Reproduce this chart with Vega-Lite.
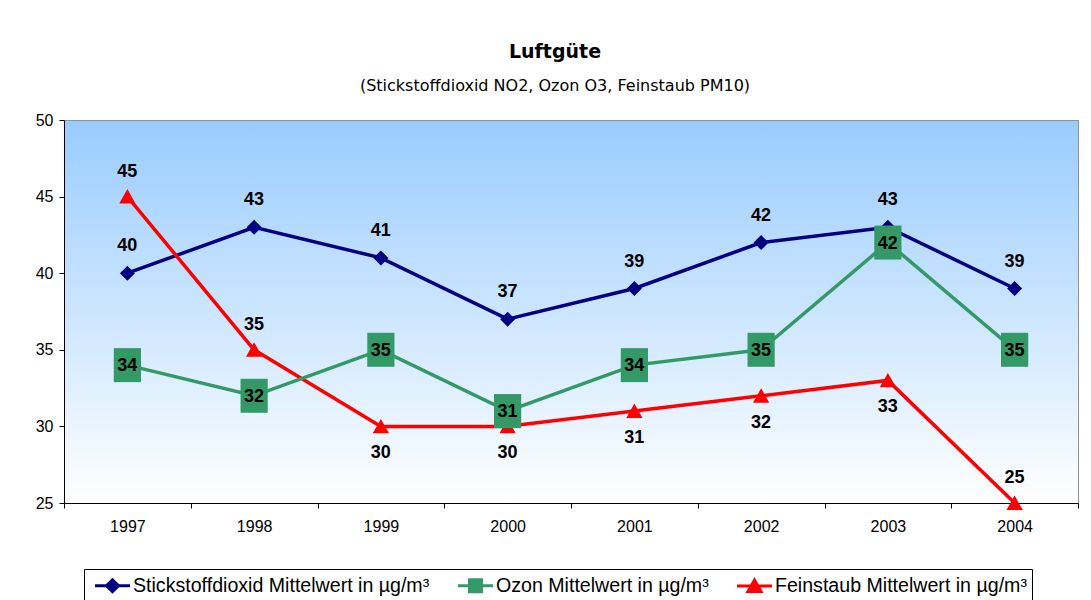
{
  "$schema": "https://vega.github.io/schema/vega-lite/v6.json",
  "width": 1014,
  "height": 383,
  "autosize": {"type": "none"},
  "padding": {"left": 64, "top": 120, "right": 13, "bottom": 97},
  "background": "white",
  "title": {
    "text": "Luftgüte",
    "subtitle": "(Stickstoffdioxid NO2, Ozon O3, Feinstaub PM10)",
    "font": "DejaVu Sans",
    "fontSize": 19,
    "fontWeight": "bold",
    "color": "black",
    "subtitleFont": "DejaVu Sans",
    "subtitleFontSize": 16,
    "subtitleColor": "black",
    "anchor": "middle",
    "dx": -16,
    "offset": 18,
    "subtitlePadding": 16
  },
  "data": {
    "values": [
      {"year": "1997", "series": "Stickstoffdioxid Mittelwert in µg/m³", "value": 40},
      {"year": "1998", "series": "Stickstoffdioxid Mittelwert in µg/m³", "value": 43},
      {"year": "1999", "series": "Stickstoffdioxid Mittelwert in µg/m³", "value": 41},
      {"year": "2000", "series": "Stickstoffdioxid Mittelwert in µg/m³", "value": 37},
      {"year": "2001", "series": "Stickstoffdioxid Mittelwert in µg/m³", "value": 39},
      {"year": "2002", "series": "Stickstoffdioxid Mittelwert in µg/m³", "value": 42},
      {"year": "2003", "series": "Stickstoffdioxid Mittelwert in µg/m³", "value": 43},
      {"year": "2004", "series": "Stickstoffdioxid Mittelwert in µg/m³", "value": 39},
      {"year": "1997", "series": "Feinstaub Mittelwert in µg/m³", "value": 45},
      {"year": "1998", "series": "Feinstaub Mittelwert in µg/m³", "value": 35},
      {"year": "1999", "series": "Feinstaub Mittelwert in µg/m³", "value": 30},
      {"year": "2000", "series": "Feinstaub Mittelwert in µg/m³", "value": 30},
      {"year": "2001", "series": "Feinstaub Mittelwert in µg/m³", "value": 31},
      {"year": "2002", "series": "Feinstaub Mittelwert in µg/m³", "value": 32},
      {"year": "2003", "series": "Feinstaub Mittelwert in µg/m³", "value": 33},
      {"year": "2004", "series": "Feinstaub Mittelwert in µg/m³", "value": 25},
      {"year": "1997", "series": "Ozon Mittelwert in µg/m³", "value": 34},
      {"year": "1998", "series": "Ozon Mittelwert in µg/m³", "value": 32},
      {"year": "1999", "series": "Ozon Mittelwert in µg/m³", "value": 35},
      {"year": "2000", "series": "Ozon Mittelwert in µg/m³", "value": 31},
      {"year": "2001", "series": "Ozon Mittelwert in µg/m³", "value": 34},
      {"year": "2002", "series": "Ozon Mittelwert in µg/m³", "value": 35},
      {"year": "2003", "series": "Ozon Mittelwert in µg/m³", "value": 42},
      {"year": "2004", "series": "Ozon Mittelwert in µg/m³", "value": 35}
    ]
  },
  "encoding": {
    "x": {
      "field": "year",
      "type": "ordinal",
      "scale": {"type": "band", "paddingInner": 0, "paddingOuter": 0},
      "axis": {
        "title": null,
        "labelAngle": 0,
        "labelFont": "Liberation Sans",
        "labelFontSize": 16,
        "labelColor": "black",
        "labelPadding": 10,
        "tickBand": "extent",
        "tickSize": 5,
        "tickColor": "black",
        "domainColor": "black",
        "domainWidth": 1,
        "grid": false
      }
    },
    "y": {
      "field": "value",
      "type": "quantitative",
      "scale": {"domain": [25, 50], "nice": false, "zero": false},
      "axis": {
        "title": null,
        "values": [25, 30, 35, 40, 45, 50],
        "labelFont": "Liberation Sans",
        "labelFontSize": 16,
        "labelColor": "black",
        "labelPadding": 6,
        "tickSize": 5,
        "tickColor": "black",
        "domainColor": "black",
        "domainWidth": 1,
        "grid": false
      }
    }
  },
  "layer": [
    {
      "mark": {"type": "line", "strokeWidth": 3.5},
      "encoding": {
        "color": {"field": "series", "type": "nominal"}
      }
    },
    {
      "mark": {"type": "point", "filled": true, "opacity": 1, "strokeWidth": 0, "size": 625},
      "encoding": {
        "color": {
          "field": "series",
          "type": "nominal",
          "scale": {
            "domain": ["Stickstoffdioxid Mittelwert in µg/m³", "Ozon Mittelwert in µg/m³", "Feinstaub Mittelwert in µg/m³"],
            "range": ["#000080", "#339966", "#FF0000"]
          },
          "legend": {
            "title": null,
            "orient": "none",
            "legendX": 20,
            "legendY": 449,
            "direction": "horizontal",
            "columns": 3,
            "labelFont": "Liberation Sans",
            "labelFontSize": 19.6,
            "labelColor": "black",
            "labelLimit": 0,
            "labelOffset": 9,
            "symbolOffset": 12,
            "symbolSize": 400,
            "columnPadding": 22,
            "padding": 5,
            "strokeColor": "black",
            "fillColor": "white",
            "symbolStrokeWidth": 3
          }
        },
        "shape": {
          "field": "series",
          "type": "nominal",
          "scale": {
            "domain": ["Stickstoffdioxid Mittelwert in µg/m³", "Ozon Mittelwert in µg/m³", "Feinstaub Mittelwert in µg/m³"],
            "range": [
              "M-1.75,0L1.75,0M0,-0.6L0.6,0L0,0.6L-0.6,0Z",
              "M-1.75,0L1.75,0M-0.6,-0.6L0.6,-0.6L0.6,0.6L-0.6,0.6Z",
              "M-1.75,0L1.75,0M0,-0.6L0.65,0.55L-0.65,0.55Z"
            ]
          }
        }
      }
    },
    {
      "transform": [{"filter": "datum.series == 'Ozon Mittelwert in µg/m³'"}],
      "mark": {"type": "point", "filled": true, "opacity": 1, "shape": "M-0.8,-1L0.8,-1L0.8,1L-0.8,1Z", "size": 1156, "color": "#339966"}
    },
    {
      "transform": [{"filter": "datum.series == 'Stickstoffdioxid Mittelwert in µg/m³'"}],
      "mark": {"type": "text", "font": "Liberation Sans", "fontSize": 18, "fontWeight": "bold", "color": "black", "baseline": "middle", "dy": -27},
      "encoding": {"text": {"field": "value", "type": "quantitative"}}
    },
    {
      "transform": [{"filter": "datum.series == 'Ozon Mittelwert in µg/m³'"}],
      "mark": {"type": "text", "font": "Liberation Sans", "fontSize": 18, "fontWeight": "bold", "color": "black", "baseline": "middle", "dy": 1},
      "encoding": {"text": {"field": "value", "type": "quantitative"}}
    },
    {
      "transform": [{"filter": "datum.series == 'Feinstaub Mittelwert in µg/m³' && indexof(['1997','1998','2004'], datum.year) >= 0"}],
      "mark": {"type": "text", "font": "Liberation Sans", "fontSize": 18, "fontWeight": "bold", "color": "black", "baseline": "middle", "dy": -25},
      "encoding": {"text": {"field": "value", "type": "quantitative"}}
    },
    {
      "transform": [{"filter": "datum.series == 'Feinstaub Mittelwert in µg/m³' && indexof(['1997','1998','2004'], datum.year) < 0"}],
      "mark": {"type": "text", "font": "Liberation Sans", "fontSize": 18, "fontWeight": "bold", "color": "black", "baseline": "middle", "dy": 27},
      "encoding": {"text": {"field": "value", "type": "quantitative"}}
    }
  ],
  "config": {
    "view": {
      "stroke": "#909090",
      "strokeWidth": 1,
      "fill": {
        "gradient": "linear",
        "x1": 0, "y1": 0, "x2": 0, "y2": 1,
        "stops": [
          {"offset": 0, "color": "#99CCFF"},
          {"offset": 1, "color": "#FFFFFF"}
        ]
      }
    }
  }
}
